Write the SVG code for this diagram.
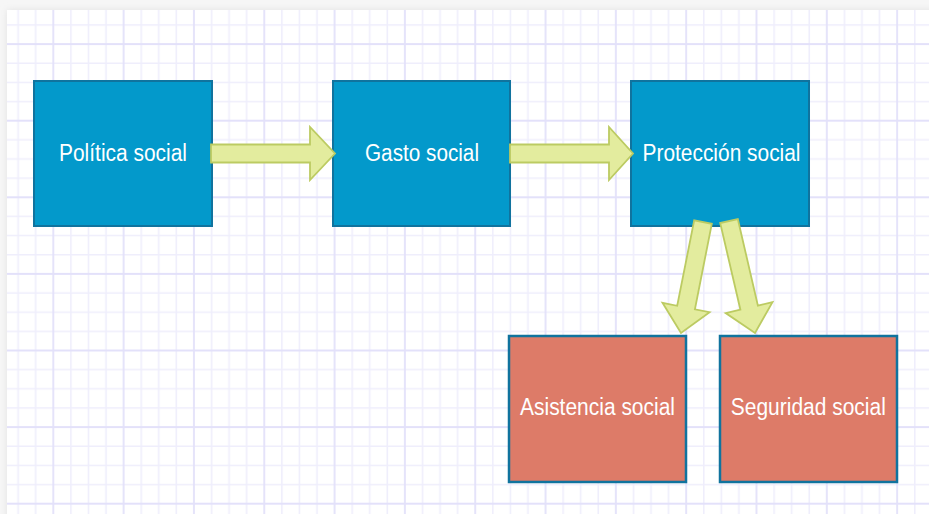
<svg xmlns="http://www.w3.org/2000/svg" width="929" height="514" viewBox="0 0 929 514">
  <defs>
    <style>
      .box-blue { fill: #0399CB; stroke: #10739E; stroke-width: 2; }
      .box-red { fill: #DD7B68; stroke: #10739E; stroke-width: 2.5; }
      .label { fill: #FFFFFF; font-family: "Liberation Sans", Arial, sans-serif; font-size: 23px; text-anchor: middle; }
      .flow { fill: #E3EC9E; stroke: #BCCB62; stroke-width: 1.8; stroke-linejoin: miter; }
      .grid-minor { stroke: #EFEEFC; stroke-width: 1.6; }
      .grid-major { stroke: #E3E1FA; stroke-width: 1.8; }
    </style>
    <filter id="panelShadow" x="-5%" y="-5%" width="110%" height="110%">
      <feGaussianBlur stdDeviation="3"/>
    </filter>
    <pattern id="grid" patternUnits="userSpaceOnUse" x="52.3" y="43.1" width="70.32" height="76.6">
      <line class="grid-minor" x1="18.58" y1="0" x2="18.58" y2="76.6"/>
      <line class="grid-minor" x1="36.16" y1="0" x2="36.16" y2="76.6"/>
      <line class="grid-minor" x1="53.74" y1="0" x2="53.74" y2="76.6"/>
      <line class="grid-minor" x1="0" y1="20.15" x2="70.32" y2="20.15"/>
      <line class="grid-minor" x1="0" y1="39.3" x2="70.32" y2="39.3"/>
      <line class="grid-minor" x1="0" y1="58.45" x2="70.32" y2="58.45"/>
      <line class="grid-major" x1="1" y1="0" x2="1" y2="76.6"/>
      <line class="grid-major" x1="0" y1="1" x2="70.32" y2="1"/>
    </pattern>
  </defs>

  <!-- page backdrop and drawing panel -->
  <rect x="0" y="0" width="929" height="514" fill="#F6F6F6"/>
  <rect x="7" y="10" width="930" height="520" fill="#E2E2E2" filter="url(#panelShadow)"/>
  <rect x="7" y="10" width="930" height="520" fill="#FFFFFF"/>
  <rect x="7" y="10" width="930" height="520" fill="url(#grid)"/>

  <!-- nodes -->
  <g id="politica-social">
    <rect class="box-blue" x="34" y="81" width="178" height="145"/>
    <text class="label" x="123" y="161" textLength="128" lengthAdjust="spacingAndGlyphs">Política social</text>
  </g>
  <g id="gasto-social">
    <rect class="box-blue" x="333" y="81" width="177" height="145"/>
    <text class="label" x="422" y="161" textLength="114" lengthAdjust="spacingAndGlyphs">Gasto social</text>
  </g>
  <g id="proteccion-social">
    <rect class="box-blue" x="631" y="81" width="178" height="145"/>
    <text class="label" x="721.5" y="161" textLength="158" lengthAdjust="spacingAndGlyphs">Protección social</text>
  </g>
  <g id="asistencia-social">
    <rect class="box-red" x="509" y="336" width="177" height="146"/>
    <text class="label" x="597.5" y="415" textLength="155" lengthAdjust="spacingAndGlyphs">Asistencia social</text>
  </g>
  <g id="seguridad-social">
    <rect class="box-red" x="720" y="336" width="177" height="146"/>
    <text class="label" x="808.3" y="415" textLength="155" lengthAdjust="spacingAndGlyphs">Seguridad social</text>
  </g>

  <!-- connectors: block arrows -->
  <g id="connectors">
    <polygon class="flow" points="211,144.5 310,144.5 310,127 335,153.5 310,180 310,162.5 211,162.5"/>
    <polygon class="flow" points="510,144.5 609,144.5 609,127 633,153.5 609,180 609,162.5 510,162.5"/>
    <polygon class="flow" points="711.8,223.8 694.9,309.3 709.6,312.2 681,333 662.5,302.8 677.2,305.8 694.2,220.3"/>
    <polygon class="flow" points="737.8,219 757.9,305.6 772.5,302.2 755,333 725.7,313.1 740.4,309.7 720.2,223"/>
  </g>
</svg>
